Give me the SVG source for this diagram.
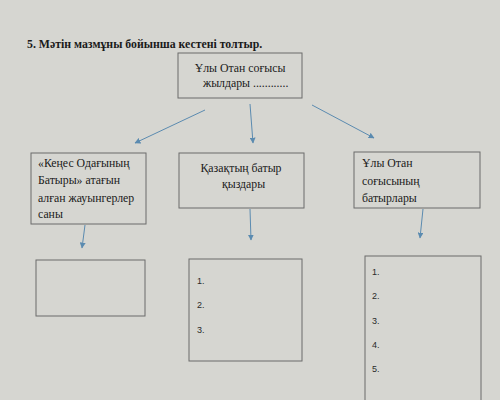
<svg xmlns="http://www.w3.org/2000/svg" width="500" height="400" viewBox="0 0 500 400">
<style>
.bg{fill:#d6d6d1}
.box{fill:none;stroke:#6b6b6b;stroke-width:1}
.t{font-family:"Liberation Serif",serif;font-size:11.8px;fill:#1a1a1a}
.title{font-family:"Liberation Serif",serif;font-size:11.8px;font-weight:bold;fill:#1a1a1a}
.n{font-family:"Liberation Sans",sans-serif;font-size:9px;fill:#2a2a2a}
.c{fill:none;stroke:#5b8bb0;stroke-width:1}
</style>
<defs>
<marker id="ah" viewBox="0 0 10 10" refX="9" refY="5" markerWidth="6" markerHeight="6" orient="auto" markerUnits="userSpaceOnUse">
<path d="M0,0 L10,5 L0,10 z" fill="#5b8bb0"/>
</marker>
</defs>
<rect class="bg" x="0" y="0" width="500" height="400"/>
<text class="title" x="27" y="48">5. Мәтін мазмұны бойынша кестені толтыр.</text>
<g id="top">
<rect class="box" x="178" y="53" width="124" height="45"/>
<text class="t" x="240" y="72" text-anchor="middle">Ұлы Отан соғысы</text>
<text class="t" x="203" y="87">жылдары ............</text>
</g>
<g id="left">
<rect class="box" x="31" y="153" width="115" height="71"/>
<text class="t" x="38" y="167">«Кеңес Одағының</text>
<text class="t" x="38" y="184">Батыры» атағын</text>
<text class="t" x="38" y="202">алған жауынгерлер</text>
<text class="t" x="38" y="218">саны</text>
</g>
<g id="middle">
<rect class="box" x="179" y="153" width="125" height="55"/>
<text class="t" x="241" y="172" text-anchor="middle">Қазақтың батыр</text>
<text class="t" x="222" y="188">қыздары</text>
</g>
<g id="right">
<rect class="box" x="354" y="152" width="126" height="56"/>
<text class="t" x="362" y="167">Ұлы Отан</text>
<text class="t" x="362" y="185">соғысының</text>
<text class="t" x="362" y="202">батырлары</text>
</g>
<g id="left-answer">
<rect class="box" x="36" y="260" width="109" height="56"/>
</g>
<g id="middle-answer">
<rect class="box" x="189" y="259" width="113" height="102"/>
<text class="n" x="197" y="284">1.</text>
<text class="n" x="197" y="308">2.</text>
<text class="n" x="197" y="333">3.</text>
</g>
<g id="right-answer">
<rect class="box" x="365" y="256" width="116" height="150"/>
<text class="n" x="372" y="275">1.</text>
<text class="n" x="372" y="299">2.</text>
<text class="n" x="372" y="324">3.</text>
<text class="n" x="372" y="348">4.</text>
<text class="n" x="372" y="372">5.</text>
</g>
<g id="connectors">
<line class="c" x1="205" y1="110" x2="135" y2="143" marker-end="url(#ah)"/>
<line class="c" x1="250" y1="104" x2="253" y2="143" marker-end="url(#ah)"/>
<line class="c" x1="312" y1="105" x2="374" y2="138" marker-end="url(#ah)"/>
<line class="c" x1="85" y1="225" x2="82" y2="248" marker-end="url(#ah)"/>
<line class="c" x1="250" y1="209" x2="251" y2="240" marker-end="url(#ah)"/>
<line class="c" x1="423" y1="209" x2="420" y2="238" marker-end="url(#ah)"/>
</g>
</svg>
